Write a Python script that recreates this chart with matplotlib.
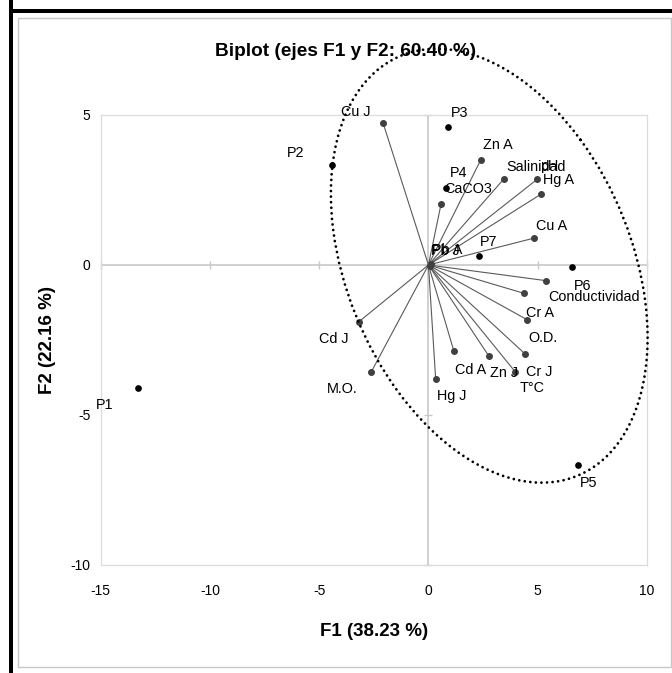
import numpy as np
import matplotlib
matplotlib.use("Agg")
import matplotlib.pyplot as plt
from matplotlib.patches import Ellipse, Rectangle

plt.rcParams['font.family'] = ['Liberation Sans', 'DejaVu Sans']
plt.rcParams['axes.unicode_minus'] = False

# Variables (loadings on F1 / F2)
var_names = ["Cu J", "CaCO3", "Zn A", "Salinidad", "pH", "Hg A", "Cu A", "Pb A", "Pb J",
             "Conductividad", "Cr A", "O.D.", "Cr J", "T°C", "Zn J", "Cd A", "Hg J", "M.O.", "Cd J"]
var_f1 = [-2.07, 0.58, 2.39, 3.44, 4.98, 5.17, 4.85, 0.12, 0.08,
          5.36, 4.35, 4.53, 4.43, 3.97, 2.75, 1.16, 0.33, -2.62, -3.18]
var_f2 = [4.72, 2.04, 3.50, 2.86, 2.86, 2.37, 0.90, 0.04, -0.03,
          -0.52, -0.94, -1.83, -2.97, -3.56, -3.02, -2.86, -3.79, -3.57, -1.89]

# Observations (scores on F1 / F2)
obs_names = ["P1", "P2", "P3", "P4", "P5", "P6", "P7"]
obs_f1 = [-13.30, -4.43, 0.90, 0.82, 6.84, 6.59, 2.33]
obs_f2 = [-4.11, 3.33, 4.59, 2.58, -6.67, -0.08, 0.31]

x_ticks = [-15, -10, -5, 0, 5, 10]
y_ticks = [-10, -5, 0, 5]

# Confidence ellipse (centre, full width, full height, angle in degrees)
ell_center = (2.782, -0.024)
ell_w, ell_h, ell_ang = 16.704, 11.838, 135.17

# label placement: (dx, dy) in points, horizontal alignment
var_lbl = {
    "Cu J": (-9.1, 8.4, "right"), "CaCO3": (1.9, 10.4, "left"), "Zn A": (1.7, 10.8, "left"),
    "Salinidad": (1.9, 9.1, "left"), "pH": (2.2, 9.6, "left"), "Hg A": (1.0, 10.1, "left"),
    "Cu A": (1.0, 8.9, "left"), "Pb A": (0.5, 10.0, "left"), "Pb J": (0.8, 10.5, "left"),
    "Conductividad": (1.7, -11.7, "left"), "Cr A": (1.9, -14.4, "left"),
    "O.D.": (0.7, -13.2, "left"), "Cr J": (0.7, -12.7, "left"), "T°C": (2.9, -12.0, "left"),
    "Zn J": (1.2, -12.7, "left"), "Cd A": (1.2, -13.9, "left"), "Hg J": (1.0, -12.2, "left"),
    "M.O.": (-9.6, -12.5, "right"), "Cd J": (-7.2, -12.7, "right"),
}
obs_lbl = {
    "P1": (-17.3, -12.0, "right"), "P2": (-19.9, 8.4, "right"), "P3": (1.7, 10.5, "left"),
    "P4": (2.4, 10.8, "left"), "P5": (1.7, -12.7, "left"), "P6": (0.7, -13.2, "left"),
    "P7": (0.7, 10.1, "left"),
}

W, H = 672, 673
fig = plt.figure(figsize=(W/100, H/100), dpi=100)


def fx(p):
    return p / W


def fy(p):
    return 1 - p / H


# chart-area frame
fig.patches.append(Rectangle((fx(9), fy(673)), fx(4), 1, transform=fig.transFigure,
                             facecolor='black', edgecolor='none'))
fig.patches.append(Rectangle((fx(9), fy(13)), 1, 4/H, transform=fig.transFigure,
                             facecolor='black', edgecolor='none'))
fig.patches.append(Rectangle((fx(18), fy(667)), fx(671-18), (667-18)/H, transform=fig.transFigure,
                             facecolor='none', edgecolor='#c8c8c8', lw=1.0))

ax = fig.add_axes([fx(100.6), fy(565), fx(546.4), 450/H])
ax.set_xlim(-15, 10)
ax.set_ylim(-10, 5)
for sp in ax.spines.values():
    sp.set_color('#dcdcdc')
    sp.set_linewidth(0.9)
ax.set_xticks(x_ticks)
ax.set_yticks(y_ticks)
ax.tick_params(length=0, labelsize=10, colors='black')
ax.tick_params(axis='x', pad=13.7)
ax.tick_params(axis='y', pad=7.3)

# centre axes with small cross ticks
ax.axhline(0, color='#c8c8c8', lw=1.2, zorder=1)
ax.axvline(0, color='#c8c8c8', lw=1.2, zorder=1)
ax.plot(x_ticks, np.zeros(len(x_ticks)), linestyle='none', marker='|', ms=6, mew=1.0,
        color='#c8c8c8', zorder=1, clip_on=False)
ax.plot(np.zeros(len(y_ticks)), y_ticks, linestyle='none', marker='_', ms=6, mew=1.0,
        color='#c8c8c8', zorder=1, clip_on=False)

# variable vectors
for name, vx, vy in zip(var_names, var_f1, var_f2):
    ax.plot([0, vx], [0, vy], color='#5a5a5a', lw=0.8, zorder=2)
    ax.plot([vx], [vy], marker='o', ms=4.0, color='#404040', zorder=3)
    dx, dy, ha = var_lbl[name]
    ax.annotate(name, (vx, vy), xytext=(dx, dy), textcoords='offset points',
                ha=ha, va='center', fontsize=10.4, zorder=5)

# observations
ax.plot(obs_f1, obs_f2, linestyle='none', marker='o', ms=3.8, color='black', zorder=4)
for name, ox, oy in zip(obs_names, obs_f1, obs_f2):
    dx, dy, ha = obs_lbl[name]
    ax.annotate(name, (ox, oy), xytext=(dx, dy), textcoords='offset points',
                ha=ha, va='center', fontsize=10.4, zorder=5)

ell = Ellipse(ell_center, ell_w, ell_h, angle=ell_ang, fill=False, edgecolor='black',
              lw=2.0, linestyle=(0, (0.01, 2.0)), capstyle='round', clip_on=False, zorder=6)
ax.add_patch(ell)

fig.text(fx(346), fy(52), "Biplot (ejes F1 y F2: 60.40 %)", ha='center', va='center',
         fontsize=13.7, fontweight='bold')
fig.text(fx(374), fy(631), "F1 (38.23 %)", ha='center', va='center', fontsize=13.5, fontweight='bold')
fig.text(fx(47), fy(340), "F2 (22.16 %)", ha='center', va='center', rotation=90,
         fontsize=13.5, fontweight='bold')

fig.savefig("out.png", dpi=100)
